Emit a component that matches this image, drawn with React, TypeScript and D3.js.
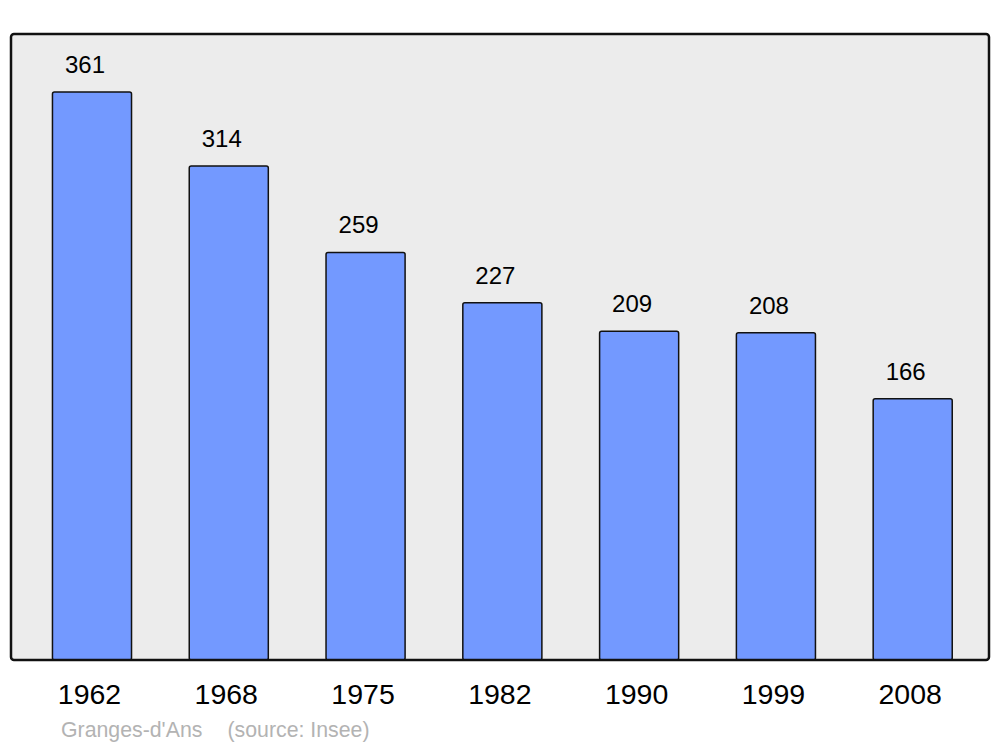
import React from "react";
import * as d3 from "d3";

const years = ["1962", "1968", "1975", "1982", "1990", "1999", "2008"];
const population = [361, 314, 259, 227, 209, 208, 166];
const placeName = "Granges-d'Ans";
const sourceText = "(source: Insee)";

export default function App() {
  const W = 1000;
  const H = 747;
  const frame = { x0: 11, y0: 34, x1: 989, y1: 660 };
  const x = d3
    .scaleBand<string>()
    .domain(years)
    .range([23.6, 981.1])
    .paddingInner(0.422)
    .paddingOuter(0.211);
  const y = d3.scaleLinear().domain([0, 361]).range([frame.y1, 92]);
  const font = "'Liberation Sans', Arial, sans-serif";

  return (
    <svg
      width={W}
      height={H}
      style={{ position: "absolute", left: 0, top: 0 }}
      fontFamily={font}
    >
      <rect x={0} y={0} width={W} height={H} fill="#ffffff" />
      <rect
        x={frame.x0}
        y={frame.y0}
        width={frame.x1 - frame.x0}
        height={frame.y1 - frame.y0}
        rx={3}
        fill="#ececec"
        stroke="none"
      />
      {years.map((yr, i) => {
        const bx = x(yr)!;
        const bw = x.bandwidth();
        const by = y(population[i]);
        return (
          <g key={yr}>
            <rect
              x={bx}
              y={by}
              width={bw}
              height={frame.y1 - by}
              rx={2}
              fill="#7399ff"
              stroke="#111"
              strokeWidth={1.5}
            />
            <text
              x={bx + bw / 2 - 7}
              y={by - 19}
              textAnchor="middle"
              fontSize={24}
              fill="#000"
            >
              {population[i]}
            </text>
            <text
              x={bx + bw / 2 - 2.5}
              y={704}
              textAnchor="middle"
              fontSize={28.5}
              fill="#000"
            >
              {yr}
            </text>
          </g>
        );
      })}
      <rect
        x={frame.x0}
        y={frame.y0}
        width={frame.x1 - frame.x0}
        height={frame.y1 - frame.y0}
        rx={3}
        fill="none"
        stroke="#111"
        strokeWidth={2.5}
      />
      <text x={61} y={737} fontSize={21.3} fill="#b3b3b3">
        {placeName}
      </text>
      <text x={227.5} y={737} fontSize={21.3} fill="#b3b3b3">
        {sourceText}
      </text>
    </svg>
  );
}
